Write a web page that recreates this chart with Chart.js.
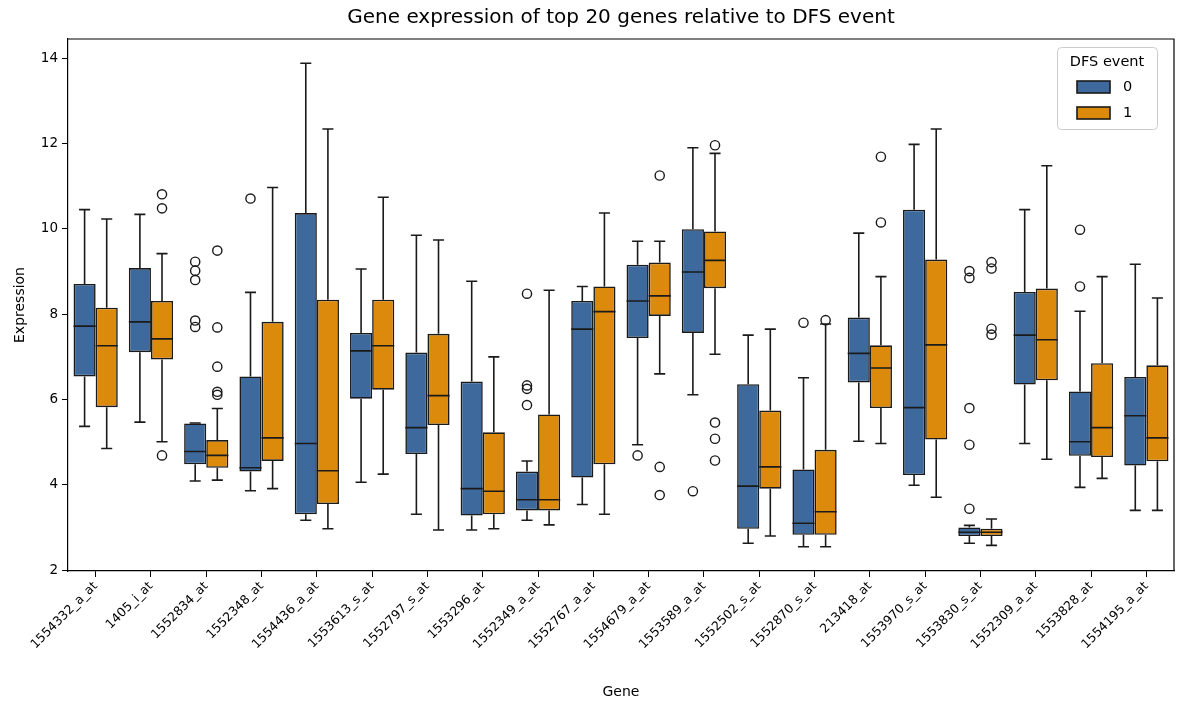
<!DOCTYPE html>
<html>
<head>
<meta charset="utf-8">
<script src="https://cdn.jsdelivr.net/npm/chart.js@4.4.1/dist/chart.umd.min.js"></script>
<style>
  html, body { margin: 0; padding: 0; background: #fff; }
  #wrap { width: 1192px; height: 703px; }
</style>
</head>
<body>
<div id="wrap"><canvas id="chart" width="1192" height="703"></canvas></div>
<script>
const genes = [
  "1554332_a_at", "1405_i_at", "1552834_at", "1552348_at", "1554436_a_at",
  "1553613_s_at", "1552797_s_at", "1553296_at", "1552349_a_at", "1552767_a_at",
  "1554679_a_at", "1553589_a_at", "1552502_s_at", "1552870_s_at", "213418_at",
  "1553970_s_at", "1553830_s_at", "1552309_a_at", "1553828_at", "1554195_a_at"
];
const hueLabels = ["0", "1"];
const yTicks = [2, 4, 6, 8, 10, 12, 14];

// DFS event = 0
const lo0  = [5.37, 5.47, 4.09, 3.86, 3.17, 4.06, 3.31, 2.94, 3.17, 3.54, 4.94, 6.11, 2.63, 2.55, 5.02, 3.99, 2.63, 4.97, 3.94, 3.40];
const q1_0 = [6.54, 7.11, 4.48, 4.31, 3.31, 6.02, 4.72, 3.28, 3.40, 4.17, 7.44, 7.56, 2.97, 2.83, 6.40, 4.23, 2.80, 6.35, 4.68, 4.45];
const med0 = [7.72, 7.82, 4.78, 4.40, 4.97, 7.14, 5.34, 3.91, 3.65, 7.65, 8.31, 8.99, 3.97, 3.10, 7.08, 5.81, 2.89, 7.51, 5.01, 5.62];
const q3_0 = [8.71, 9.08, 5.44, 6.54, 10.37, 7.56, 7.10, 6.42, 4.31, 8.31, 9.16, 9.99, 6.36, 4.36, 7.92, 10.45, 3.00, 8.52, 6.19, 6.53];
const hi0  = [10.45, 10.34, 5.45, 8.51, 13.88, 9.06, 9.85, 8.77, 4.56, 8.65, 9.71, 11.90, 7.51, 6.51, 9.90, 11.98, 3.05, 10.45, 8.07, 9.17];
const out0 = [
  [], [], [9.23, 9.02, 8.80, 7.85, 7.70], [10.71], [],
  [], [], [], [8.48, 6.33, 6.25, 5.87], [],
  [4.69], [3.85], [], [7.80], [],
  [], [9.01, 8.85, 5.80, 4.94, 3.44], [], [9.98, 8.65], []
];

// DFS event = 1
const lo1  = [4.85, 5.01, 4.11, 3.91, 2.97, 4.25, 2.94, 2.97, 3.06, 3.31, 6.60, 7.06, 2.80, 2.55, 4.97, 3.71, 2.58, 4.60, 4.15, 3.40];
const q1_1 = [5.82, 6.94, 4.40, 4.56, 3.55, 6.23, 5.40, 3.31, 3.40, 4.48, 7.96, 8.61, 3.91, 2.83, 5.80, 5.06, 2.80, 6.45, 4.65, 4.55];
const med1 = [7.26, 7.42, 4.69, 5.10, 4.33, 7.26, 6.09, 3.85, 3.65, 8.06, 8.43, 9.26, 4.42, 3.37, 6.74, 7.28, 2.89, 7.40, 5.34, 5.10];
const q3_1 = [8.15, 8.31, 5.05, 7.82, 8.34, 8.34, 7.54, 5.23, 5.65, 8.65, 9.21, 9.94, 5.74, 4.82, 7.27, 9.28, 2.97, 8.60, 6.85, 6.80];
const hi1  = [10.23, 9.42, 5.79, 10.97, 12.34, 10.74, 9.74, 7.00, 8.56, 10.37, 9.71, 11.77, 7.65, 7.77, 8.88, 12.34, 3.20, 11.48, 8.88, 8.38];
const out1 = [
  [], [10.81, 10.48, 4.69], [9.49, 7.69, 6.77, 6.18, 6.11], [], [],
  [], [], [], [], [],
  [11.25, 4.42, 3.76], [11.96, 5.46, 5.08, 4.57], [], [7.86], [11.69, 10.15],
  [], [9.22, 9.07, 7.66, 7.52], [], [], []
];

const stats = [
  { lo: lo0, q1: q1_0, med: med0, q3: q3_0, hi: hi0, out: out0 },
  { lo: lo1, q1: q1_1, med: med1, q3: q3_1, hi: hi1, out: out1 }
];
const colors = ["#3e699c", "#dc8a0c"];
const lineColor = "#1a1a1a";
const FONT = "'DejaVu Sans', sans-serif";

const boxPlugin = {
  id: "boxExtras",
  afterDatasetsDraw(chart) {
    const ctx = chart.ctx;
    const y = chart.scales.y;
    stats.forEach((s, d) => {
      const meta = chart.getDatasetMeta(d);
      meta.data.forEach((bar, i) => {
        const x = bar.x;
        const half = bar.width / 2;
        const cap = bar.width / 4;
        const py = (v) => y.getPixelForValue(v);
        ctx.save();
        ctx.strokeStyle = lineColor;
        ctx.lineWidth = 1.6;
        ctx.beginPath();
        // whiskers
        ctx.moveTo(x, py(s.q3[i])); ctx.lineTo(x, py(s.hi[i]));
        ctx.moveTo(x, py(s.q1[i])); ctx.lineTo(x, py(s.lo[i]));
        // caps
        ctx.moveTo(x - cap, py(s.hi[i])); ctx.lineTo(x + cap, py(s.hi[i]));
        ctx.moveTo(x - cap, py(s.lo[i])); ctx.lineTo(x + cap, py(s.lo[i]));
        // median
        ctx.moveTo(x - half, py(s.med[i])); ctx.lineTo(x + half, py(s.med[i]));
        ctx.stroke();
        // fliers
        ctx.lineWidth = 1.4;
        s.out[i].forEach((v) => {
          ctx.beginPath();
          ctx.arc(x, py(v), 4.6, 0, Math.PI * 2);
          ctx.stroke();
        });
        ctx.restore();
      });
    });
  },
  afterDraw(chart) {
    const ctx = chart.ctx;
    const a = chart.chartArea;
    ctx.save();
    // top and right spines
    ctx.strokeStyle = "#000";
    ctx.lineWidth = 1.2;
    ctx.beginPath();
    ctx.moveTo(a.left, a.top); ctx.lineTo(a.right, a.top); ctx.lineTo(a.right, a.bottom);
    ctx.stroke();

    // legend
    const w = 100, h = 82;
    const lx = a.right - 17 - w, ly = a.top + 8;
    ctx.fillStyle = "rgba(255,255,255,0.8)";
    ctx.strokeStyle = "#cccccc";
    ctx.lineWidth = 1;
    ctx.beginPath();
    ctx.roundRect(lx + 0.5, ly + 0.5, w, h, 4);
    ctx.fill();
    ctx.stroke();
    ctx.fillStyle = "#000";
    ctx.font = "14.5px " + FONT;
    ctx.textAlign = "center";
    ctx.textBaseline = "middle";
    ctx.fillText("DFS event", lx + w / 2, ly + 15);
    hueLabels.forEach((lab, k) => {
      const cy = ly + 40 + k * 26;
      ctx.fillStyle = colors[k];
      ctx.fillRect(lx + 20, cy - 6, 33, 12);
      ctx.strokeStyle = lineColor;
      ctx.lineWidth = 1.6;
      ctx.strokeRect(lx + 20, cy - 6, 33, 12);
      ctx.fillStyle = "#000";
      ctx.textAlign = "left";
      ctx.fillText(lab, lx + 66, cy);
    });
    ctx.restore();
  }
};

const datasets = stats.map((s, d) => ({
  label: hueLabels[d],
  data: s.q1.map((v, i) => [v, s.q3[i]]),
  backgroundColor: colors[d],
  borderColor: lineColor,
  borderWidth: 1.6,
  borderSkipped: false,
  categoryPercentage: 0.8,
  barPercentage: 1.0
}));

new Chart(document.getElementById("chart").getContext("2d"), {
  type: "bar",
  data: { labels: genes, datasets: datasets },
  options: {
    responsive: false,
    animation: false,
    devicePixelRatio: 1,
    layout: { padding: { left: 0, right: 18, top: 0, bottom: 0 } },
    plugins: {
      legend: { display: false },
      tooltip: { enabled: false },
      title: {
        display: true,
        text: "Gene expression of top 20 genes relative to DFS event",
        fullSize: false,
        color: "#000",
        font: { family: FONT, size: 20, weight: "normal", lineHeight: 1.2 },
        padding: { top: 6, bottom: 9 }
      }
    },
    scales: {
      x: {
        type: "category",
        grid: { display: true, offset: false, drawOnChartArea: false, drawTicks: true, tickLength: 6, color: "#000" },
        border: { display: true, color: "#000", width: 1.2 },
        ticks: {
          color: "#000",
          font: { family: FONT, size: 12.5 },
          minRotation: 45,
          maxRotation: 45,
          autoSkip: false,
          padding: 2
        },
        title: {
          display: true,
          text: "Gene",
          color: "#000",
          font: { family: FONT, size: 14 },
          padding: { top: 0, bottom: 2 }
        },
        afterFit(scale) { scale.height = 132; }
      },
      y: {
        min: 1.98,
        max: 14.45,
        grid: { display: true, drawOnChartArea: false, drawTicks: true, tickLength: 6, color: "#000" },
        border: { display: true, color: "#000", width: 1.2 },
        ticks: {
          color: "#000",
          font: { family: FONT, size: 13.5 },
          padding: 4
        },
        afterBuildTicks(scale) { scale.ticks = yTicks.map((v) => ({ value: v })); },
        title: {
          display: true,
          text: "Expression",
          color: "#000",
          font: { family: FONT, size: 14 },
          padding: { top: 12, bottom: 0 }
        },
        afterFit(scale) { scale.width = 68; }
      }
    }
  },
  plugins: [boxPlugin]
});
</script>
</body>
</html>
